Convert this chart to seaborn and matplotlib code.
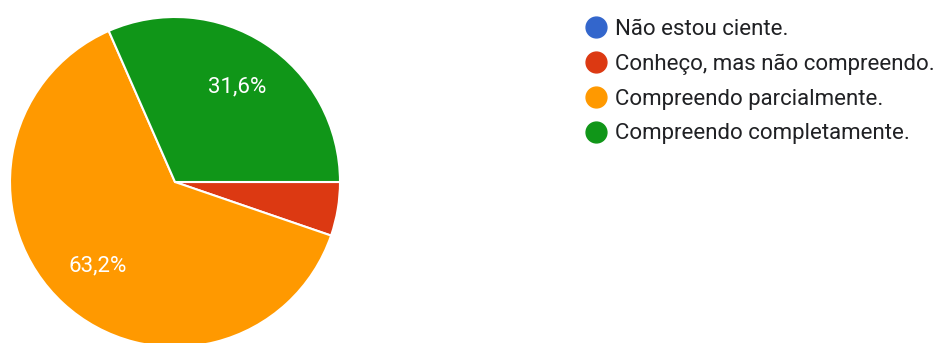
import matplotlib
matplotlib.use("Agg")
import matplotlib.pyplot as plt
from matplotlib.lines import Line2D
import seaborn as sns

# survey answers (counts) and legend labels
labels = ["Não estou ciente.", "Conheço, mas não compreendo.",
          "Compreendo parcialmente.", "Compreendo completamente."]
counts = [0, 1, 12, 6]
colors = ["#3366CC", "#DC3912", "#FF9900", "#109618"]

sns.set_theme(style="white")
plt.rcParams['font.family'] = ['Roboto', 'DejaVu Sans']

W, H = 938, 343
fig = plt.figure(figsize=(W / 100, H / 100), dpi=100)
fig.patch.set_facecolor("white")

# pie centre (175, 182) px, radius 165 px
cx, cy, r = 175, 182, 165
ax = fig.add_axes([(cx - r) / W, (H - cy - r) / H, 2 * r / W, 2 * r / H])


def fmt(pct):
    if pct < 8:
        return ""
    return "{:.1f}%".format(pct).replace(".", ",")


wedges, texts, autotexts = ax.pie(
    counts, colors=colors, startangle=0, counterclock=False,
    autopct=fmt, pctdistance=0.69,
    wedgeprops=dict(edgecolor="white", linewidth=1.5),
    textprops=dict(color="white", fontsize=16))
ax.set_xlim(-1, 1)
ax.set_ylim(-1, 1)
ax.set_aspect("equal")
ax.axis("off")

handles = [Line2D([], [], marker="o", ls="", markersize=15,
                  markerfacecolor=c, markeredgecolor=c) for c in colors]
fig.legend(handles, labels, loc="upper left",
           bbox_to_anchor=(574 / W, 1 - 10 / H), frameon=False,
           fontsize=16, labelspacing=0.62, handletextpad=0.25,
           handlelength=1.2, borderaxespad=0, labelcolor="#202124")

fig.savefig("out.png", dpi=100, facecolor="white")
